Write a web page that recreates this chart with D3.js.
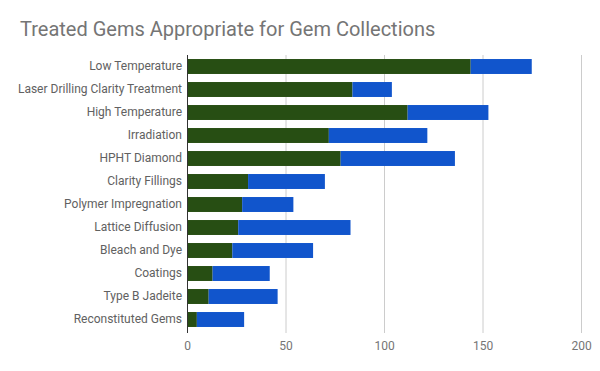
<!DOCTYPE html>
<html>
<head>
<meta charset="utf-8">
<script src="https://cdn.jsdelivr.net/npm/d3@7"></script>
<style>
  body { margin: 0; background: #fff; }
  svg { font-family: Roboto, sans-serif; display: block; }
</style>
</head>
<body>
<svg width="600" height="371"></svg>
<script>
// chart data
var categories = ["Low Temperature", "Laser Drilling Clarity Treatment", "High Temperature",
  "Irradiation", "HPHT Diamond", "Clarity Fillings", "Polymer Impregnation",
  "Lattice Diffusion", "Bleach and Dye", "Coatings", "Type B Jadeite", "Reconstituted Gems"];
var seriesA = [144, 84, 112, 72, 78, 31, 28, 26, 23, 13, 11, 5];
var seriesB = [31, 20, 41, 50, 58, 39, 26, 57, 41, 29, 35, 24];
var xTicks = [0, 50, 100, 150, 200];
var colors = ["#274e13", "#1155cc"];

var svg = d3.select("svg");
var margin = {top: 55, right: 19, bottom: 40, left: 187};
var width = +svg.attr("width") - margin.left - margin.right;
var height = +svg.attr("height") - margin.top - margin.bottom;

var x = d3.scaleLinear().domain([0, 200]).range([0, 394]);
var y = d3.scaleBand().domain(categories).range([0, 276]).paddingInner(0.35).paddingOuter(0.175);

svg.append("text")
  .attr("x", 20).attr("y", 36)
  .attr("fill", "#757575")
  .style("font-size", "20px")
  .text("Treated Gems Appropriate for Gem Collections");

var graph = svg.append("g")
  .attr("transform", "translate(" + margin.left + "," + margin.top + ")");

// gridlines
graph.selectAll(".grid")
  .data(xTicks.slice(1))
  .enter().append("line")
  .attr("x1", function(d) { return x(d) + 0.5; })
  .attr("x2", function(d) { return x(d) + 0.5; })
  .attr("y1", 0).attr("y2", 278)
  .attr("stroke", "#cccccc");

var rows = categories.map(function(c, i) {
  return {cat: c, a: seriesA[i], b: seriesB[i]};
});
var stack = d3.stack().keys(["a", "b"])(rows);

graph.selectAll(".series")
  .data(stack)
  .enter().append("g")
  .attr("fill", function(d, i) { return colors[i]; })
  .selectAll("rect")
  .data(function(d) { return d; })
  .enter().append("rect")
  .attr("x", function(d) { return x(d[0]); })
  .attr("y", function(d) { return y(d.data.cat); })
  .attr("width", function(d) { return x(d[1]) - x(d[0]); })
  .attr("height", y.bandwidth());

// category labels
graph.append("g")
  .call(d3.axisLeft(y).tickSize(0).tickPadding(5))
  .call(function(g) { g.select(".domain").remove(); })
  .selectAll("text")
  .attr("fill", "#616161")
  .style("font-size", "12px")
  .style("font-family", "Roboto, sans-serif");

// baseline
graph.append("line")
  .attr("x1", 0.5).attr("x2", 0.5)
  .attr("y1", 0).attr("y2", 278)
  .attr("stroke", "#333333");

// x axis labels
graph.append("g")
  .attr("transform", "translate(0,286)")
  .call(d3.axisBottom(x).tickValues(xTicks).tickSize(0).tickPadding(0))
  .call(function(g) { g.select(".domain").remove(); })
  .selectAll("text")
  .attr("fill", "#757575")
  .attr("dy", "0.71em")
  .style("font-size", "12px")
  .style("font-family", "Roboto, sans-serif");
</script>
</body>
</html>
